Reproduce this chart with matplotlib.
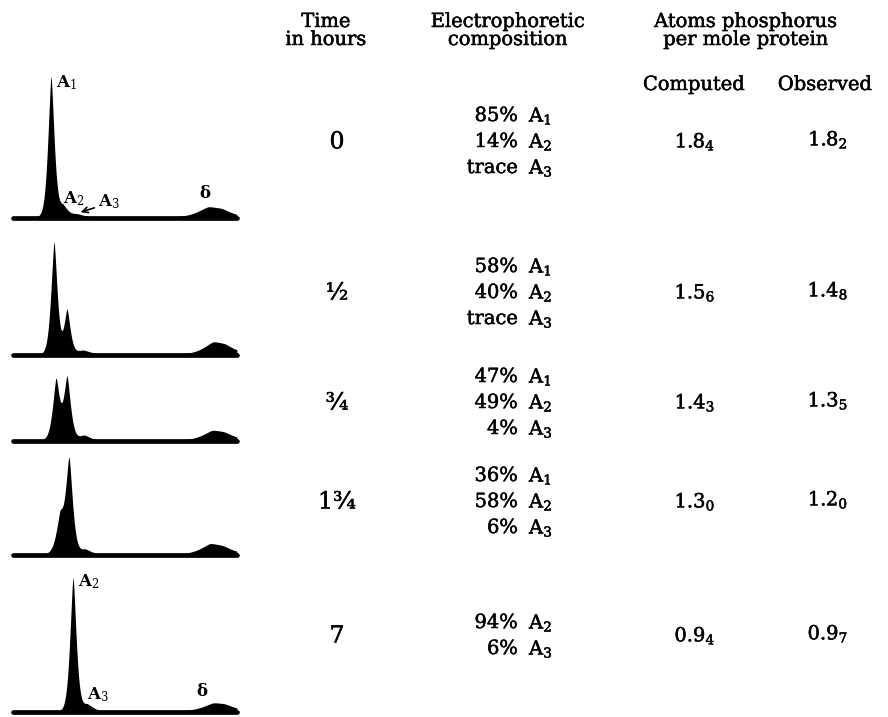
import numpy as np
import matplotlib.pyplot as plt
import matplotlib.patheffects as pe

plt.rcParams['font.family'] = ['DejaVu Serif']
plt.rcParams['mathtext.fontset'] = 'dejavuserif'

# table columns
times = ['0', '½', '¾', '1¾', '7']
comp_amount = [
    ['85%', '14%', 'trace'],
    ['58%', '40%', 'trace'],
    ['47%', '49%', '4%'],
    ['36%', '58%', '6%'],
    ['94%', '6%'],
]
comp_name = [
    ['A$_1$', 'A$_2$', 'A$_3$'],
    ['A$_1$', 'A$_2$', 'A$_3$'],
    ['A$_1$', 'A$_2$', 'A$_3$'],
    ['A$_1$', 'A$_2$', 'A$_3$'],
    ['A$_2$', 'A$_3$'],
]
computed = ['1.8$_4$', '1.5$_6$', '1.4$_3$', '1.3$_0$', '0.9$_4$']
observed = ['1.8$_2$', '1.4$_8$', '1.3$_5$', '1.2$_0$', '0.9$_7$']

# electrophoretic scans: peaks (A1, A2, A3, delta) read off the tracings
# position along the pattern, peak height, peak width
peak_pos = [
    [41, 53, 67, 198, 212],
    [44, 57, 73, 203, 215],
    [46, 57, 74, 202, 214],
    [50, 59, 75, 200, 213],
    [63, 77, 203, 215],
]
peak_height = [
    [140, 11, 3, 8, 5],
    [112, 44, 4, 9, 6],
    [60, 62, 5, 7, 5],
    [36, 92, 5, 8, 5],
    [133, 7, 6, 4],
]
peak_width = [
    [2.8, 4.0, 6, 10, 10],
    [2.8, 2.8, 6, 9, 10],
    [3.1, 3.1, 5, 9, 10],
    [3.6, 3.1, 5, 9, 10],
    [2.8, 5.0, 10, 10],
]

W, H = 888, 717
fig = plt.figure(figsize=(W / 100, H / 100), dpi=100)
ink = [pe.withStroke(linewidth=0.35, foreground='black')]


def fx(px):
    return px / W


def fy(py):
    return 1 - py / H


# left column: the scanning patterns
baselines = [217, 354, 440, 554, 711]
x = np.linspace(0, 230, 1200)
panel_axes = []
for i, yb in enumerate(baselines):
    ax = fig.add_axes([fx(10), fy(yb + 6), 230 / W, 156 / H])
    ax.set_xlim(0, 230)
    ax.set_ylim(-6, 150)
    ax.axis('off')
    prof = np.zeros_like(x)
    for p, h, w in zip(peak_pos[i], peak_height[i], peak_width[i]):
        prof += h * np.exp(-0.5 * (np.abs(x - p) / w) ** 1.5)
    m = (x >= 3) & (x <= 227)
    ax.fill_between(x[m], -2, prof[m], color='black', lw=0)
    ax.plot([3, 227], [-1, -1], color='black', lw=3.4, solid_capstyle='round')
    panel_axes.append(ax)

lab = dict(fontsize=12, fontweight='bold', color='black')
ax = panel_axes[0]
ax.text(peak_pos[0][0] + 5, peak_height[0][0] - 6, 'A$_1$', ha='left', va='center', **lab)
ax.text(peak_pos[0][1], 18, 'A$_2$', ha='left', va='center', **lab)
ax.text(peak_pos[0][2] + 21, 15, 'A$_3$', ha='left', va='center', **lab)
ax.annotate('', xy=(peak_pos[0][2] + 1, 4), xytext=(peak_pos[0][2] + 20, 10),
            arrowprops=dict(arrowstyle='->', color='black', lw=1.2))
ax.text(peak_pos[0][3] - 3, 24, 'δ', ha='center', va='center', **lab)

ax = panel_axes[4]
ax.text(peak_pos[4][0] + 5, peak_height[4][0] - 4, 'A$_2$', ha='left', va='center', **lab)
ax.text(peak_pos[4][1], 16, 'A$_3$', ha='left', va='center', **lab)
ax.text(peak_pos[4][2] - 11, 20, 'δ', ha='center', va='center', **lab)

# headers
hdr = dict(fontsize=14, ha='center', va='center', path_effects=ink)
fig.text(fx(326), fy(22), 'Time', **hdr)
fig.text(fx(326), fy(40), 'in hours', **hdr)
fig.text(fx(508), fy(22), 'Electrophoretic', **hdr)
fig.text(fx(508), fy(40), 'composition', **hdr)
fig.text(fx(746), fy(22), 'Atoms phosphorus', **hdr)
fig.text(fx(746), fy(40), 'per mole protein', **hdr)
fig.text(fx(694), fy(85), 'Computed', **hdr)
fig.text(fx(825), fy(85), 'Observed', **hdr)

# table rows
row_y = [142, 293, 403, 502, 636]
line_gap = 26
cell = dict(fontsize=14, va='center', path_effects=ink)
for i, yc in enumerate(row_y):
    fig.text(fx(337), fy(yc), times[i], ha='center', fontsize=17, va='center',
             path_effects=ink)
    n = len(comp_amount[i])
    for k in range(n):
        yl = yc + (k - (n - 1) / 2) * line_gap
        fig.text(fx(518), fy(yl), comp_amount[i][k], ha='right', **cell)
        fig.text(fx(529), fy(yl), comp_name[i][k], ha='left', **cell)
    fig.text(fx(695), fy(yc), computed[i], ha='center', **cell)
    fig.text(fx(828), fy(yc - 2), observed[i], ha='center', **cell)

fig.savefig('out.png', dpi=100, facecolor='white')
